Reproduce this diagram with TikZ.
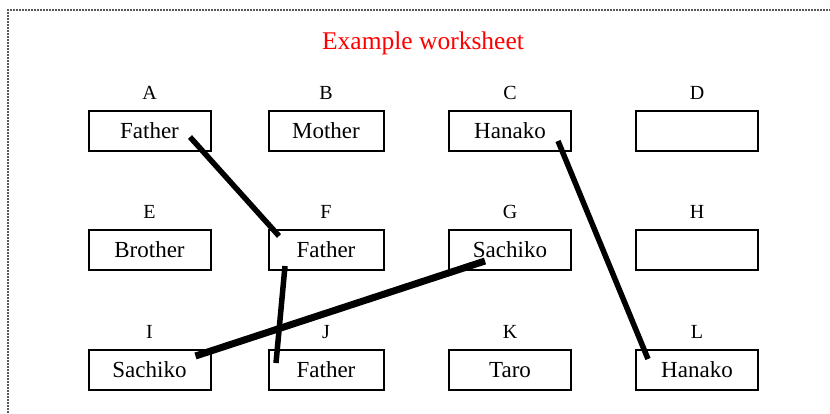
\documentclass[tikz,border=0pt]{standalone}
\usepackage{fontspec}
\setmainfont{Liberation Serif}
\begin{document}
\begin{tikzpicture}[x=1pt,y=-1pt,
  wbox/.style={draw=black, line width=2pt, minimum height=40pt, inner sep=0pt, font=\fontsize{23}{26}\selectfont},
  wide/.style={minimum width=122pt},
  narrow/.style={minimum width=115pt},
  lab/.style={font=\fontsize{20}{23}\selectfont, inner sep=0pt},
  link/.style={draw=black, line width=5.5pt, line cap=butt},
  thicklink/.style={draw=black, line width=7pt, line cap=butt},
  border/.style={draw=gray!70!black, line width=1.3pt, dash pattern=on 2pt off 1pt}
]
\useasboundingbox (0,0) rectangle (830,413);
\draw[border] (8,413) -- (8,10) -- (830,10);
\node[font=\fontsize{25.5}{29}\selectfont, text=red, inner sep=0pt] (title) at (423,43) {Example worksheet};
% row 1
\node[wbox,wide]   (A) at (149.5,131) {Father};
\node[wbox,narrow] (B) at (326,131) {Mother};
\node[wbox,wide]   (C) at (510,131) {Hanako};
\node[wbox,wide]   (D) at (697,131) {};
% row 2
\node[wbox,wide]   (E) at (149.5,250) {Brother};
\node[wbox,narrow] (F) at (326,250) {Father};
\node[wbox,wide]   (G) at (510,250) {Sachiko};
\node[wbox,wide]   (H) at (697,250) {};
% row 3
\node[wbox,wide]   (I) at (149.5,370) {Sachiko};
\node[wbox,narrow] (J) at (326,370) {Father};
\node[wbox,wide]   (K) at (510,370) {Taro};
\node[wbox,wide]   (L) at (697,370) {Hanako};
% labels
\foreach \n/\t in {A/A,B/B,C/C,D/D,E/E,F/F,G/G,H/H,I/I,J/J,K/K,L/L}
  \node[lab] (lab\n) at ([yshift=38pt]\n.center) {\t};
% connector end points
\coordinate (a1) at ([xshift=40.5pt,yshift=-6pt]A.center);
\coordinate (f1) at ([xshift=-47pt,yshift=14pt]F.center);
\coordinate (c1) at ([xshift=48pt,yshift=-10pt]C.center);
\coordinate (l1) at ([xshift=-49pt,yshift=11pt]L.center);
\coordinate (f2) at ([xshift=-41pt,yshift=-16pt]F.center);
\coordinate (j1) at ([xshift=-50pt,yshift=7pt]J.center);
\coordinate (g1) at ([xshift=-25pt,yshift=-11pt]G.center);
\coordinate (i1) at ([xshift=46pt,yshift=14pt]I.center);
\draw[link] (a1) -- (f1);
\draw[link] (c1) -- (l1);
\draw[link] (f2) -- (j1);
\draw[thicklink] (g1) -- (i1);
\end{tikzpicture}
\end{document}
